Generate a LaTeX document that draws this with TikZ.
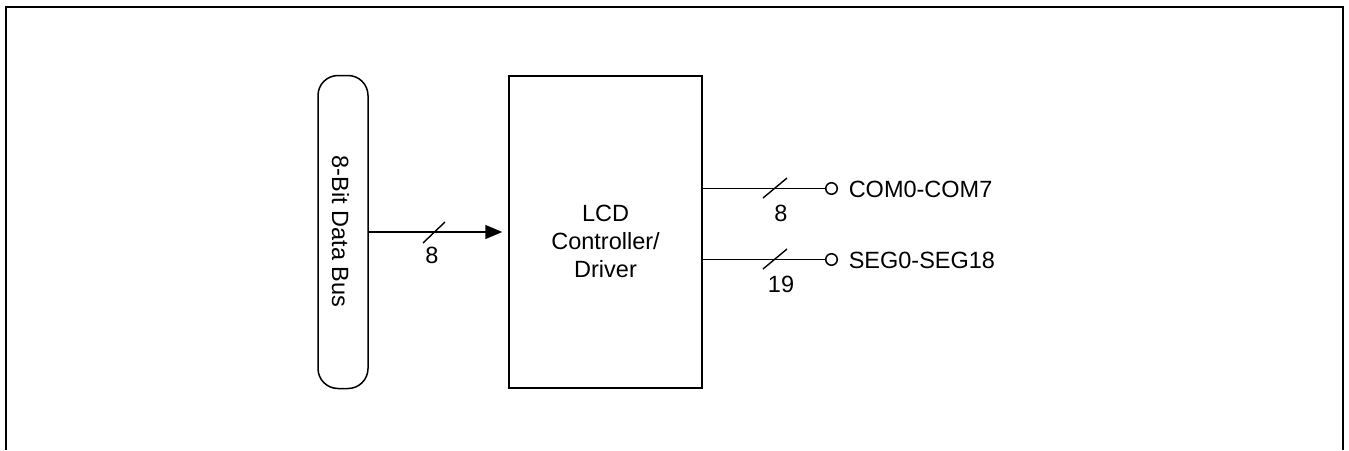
\documentclass[tikz,border=0pt]{standalone}
\usepackage{fontspec}
\setmainfont{Liberation Sans}
\usetikzlibrary{arrows.meta,calc}
\begin{document}
\begin{tikzpicture}[x=1pt,y=-1pt,line width=1.5pt,
  font=\fontsize{23.5}{28}\selectfont,
  busbox/.style={draw,rounded corners=20pt,minimum width=50pt,minimum height=313pt,inner sep=0pt},
  blockbox/.style={draw,minimum width=193pt,minimum height=312pt,inner sep=0pt},
  term/.style={draw,circle,fill=white,minimum size=11.5pt,inner sep=0pt,line width=1.5pt},
  lbl/.style={inner sep=0pt},
  buswire/.style={-{Triangle[length=17pt,width=14pt]}},
  slashmark/.style={line width=1.4pt}]
\useasboundingbox (0,0) rectangle (1349,450);
\draw[line width=2.6pt] (6,450) -- (6,7) -- (1343,7) -- (1343,450);
% bus
\node[busbox] (bus) at (343,232) {};
\node[lbl,rotate=-90] (bustxt) at (340.5,231.5) {8-Bit Data Bus};
% block
\node[blockbox] (lcd) at (605.5,232) {};
\node[lbl,align=center] (lcdtxt) at (605.5,241.5) {LCD\\Controller/\\Driver};
% bus arrow
\draw[buswire,shorten >=6pt] (bus.east) -- (lcd.west);
\draw[slashmark] (423,243) -- (445,222);
\node[lbl] (buswidth) at (432,255) {8};
% COM output
\node[term] (comend) at (831.5,188.5) {};
\draw (lcd.east |- comend) -- (comend.west);
\draw[slashmark] (763,198) -- (787,178);
\node[lbl] (comwidth) at (781,213) {8};
\node[lbl,anchor=base west] (comlbl) at (848,197) {COM0-COM7};
% SEG output
\node[term] (segend) at (831.5,259.5) {};
\draw (lcd.east |- segend) -- (segend.west);
\draw[slashmark] (763,269) -- (787,249);
\node[lbl] (segwidth) at (781,284) {19};
\node[lbl,anchor=base west] (seglbl) at (848,268) {SEG0-SEG18};
\end{tikzpicture}
\end{document}
